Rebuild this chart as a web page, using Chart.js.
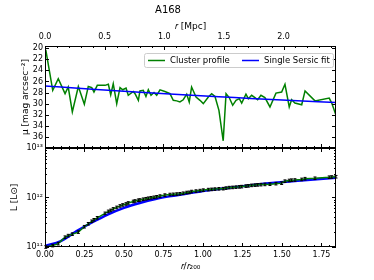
<!DOCTYPE html>
<html>
<head>
<meta charset="utf-8">
<script src="https://cdn.jsdelivr.net/npm/chart.js@4.4.1/dist/chart.umd.min.js"></script>
<style>
  html, body { margin: 0; padding: 0; background: #fff; }
</style>
</head>
<body>
<canvas id="myChart" width="374" height="280"></canvas>
<script>
'use strict'

// radial bins, in units of r200 (both panels share them)
const radius = [
  0.005, 0.049, 0.084, 0.127, 0.147, 0.173, 0.211, 0.249, 0.274, 0.296,
  0.310, 0.331, 0.380, 0.401, 0.416, 0.432, 0.454, 0.475, 0.492, 0.513,
  0.527, 0.559, 0.570, 0.591, 0.601, 0.622, 0.639, 0.654, 0.671, 0.690,
  0.707, 0.728, 0.759, 0.791, 0.812, 0.834, 0.854, 0.875, 0.897, 0.913,
  0.928, 0.956, 0.981, 1.002, 1.034, 1.055, 1.076, 1.101, 1.128, 1.146,
  1.166, 1.188, 1.209, 1.230, 1.245, 1.272, 1.287, 1.308, 1.329, 1.346,
  1.367, 1.392, 1.424, 1.462, 1.498, 1.519, 1.546, 1.561, 1.582, 1.625,
  1.646, 1.709, 1.799, 1.815, 1.842,
];

// surface brightness, mag arcsec^-2
const muProfile = [
  20.3, 27.6, 25.5, 28.2, 27.0, 31.5, 26.9, 30.1, 26.9, 27.1,
  27.9, 26.7, 26.7, 26.5, 28.4, 26.4, 30.0, 27.1, 27.5, 27.2,
  28.5, 27.8, 28.2, 29.4, 27.7, 27.6, 28.7, 27.5, 28.5, 28.0,
  28.5, 27.5, 27.8, 28.2, 29.4, 29.5, 29.7, 29.3, 28.3, 29.7,
  27.0, 28.8, 29.4, 30.0, 28.8, 28.2, 28.7, 31.2, 36.7, 28.2,
  28.9, 30.3, 29.4, 29.1, 29.9, 28.3, 29.1, 28.5, 28.9, 29.3,
  28.5, 28.9, 30.6, 28.1, 27.9, 26.5, 30.6, 29.3, 29.9, 30.2,
  27.7, 29.5, 29.0, 29.9, 32.1,
];

// cumulative luminosity, L_sun
const lumProfile = [
  1.00e11, 1.07e11, 1.17e11, 1.58e11, 1.70e11, 1.82e11, 2.00e11, 2.57e11, 2.95e11, 3.31e11,
  3.55e11, 3.89e11, 4.79e11, 5.25e11, 5.50e11, 5.89e11, 6.31e11, 6.76e11, 7.08e11, 7.41e11,
  7.76e11, 8.32e11, 8.51e11, 8.81e11, 8.91e11, 9.23e11, 9.44e11, 9.66e11, 9.89e11, 1.01e12,
  1.035e12, 1.07e12, 1.12e12, 1.15e12, 1.16e12, 1.175e12, 1.19e12, 1.22e12, 1.26e12, 1.27e12,
  1.32e12, 1.35e12, 1.38e12, 1.41e12, 1.445e12, 1.46e12, 1.48e12, 1.50e12, 1.51e12, 1.55e12,
  1.585e12, 1.60e12, 1.62e12, 1.64e12, 1.66e12, 1.70e12, 1.72e12, 1.76e12, 1.78e12, 1.80e12,
  1.82e12, 1.84e12, 1.86e12, 1.905e12, 1.95e12, 2.14e12, 2.21e12, 2.24e12, 2.26e12, 2.32e12,
  2.40e12, 2.45e12, 2.57e12, 2.60e12, 2.63e12,
];
const lumErrFrac = 0.06;

// sersic fit
const muFitRadius = [0, 0.3, 0.6, 0.9, 1.2, 1.5, 1.842];
const muFit = [26.8, 27.4, 27.95, 28.45, 28.9, 29.35, 29.8];
const lumFitRadius = [0, 0.1, 0.2, 0.3, 0.4, 0.5, 0.6, 0.7, 0.8, 0.9, 1.0, 1.2, 1.4, 1.6, 1.842];
const lumFit = [1.05e11, 1.32e11, 2.09e11, 3.16e11, 4.57e11, 6.17e11, 7.76e11, 9.33e11,
                1.07e12, 1.20e12, 1.35e12, 1.62e12, 1.91e12, 2.19e12, 2.51e12];

// tick labels
const muTicks = [20, 22, 24, 26, 28, 30, 32, 34, 36];
const lumTicks = [1e11, 1e12, 1e13];
const lumTickLabels = ['10\u00b9\u00b9', '10\u00b9\u00b2', '10\u00b9\u00b3'];
const xTicks = [0, 0.25, 0.5, 0.75, 1.0, 1.25, 1.5, 1.75];
const mpcTicks = [0, 0.5, 1.0, 1.5, 2.0];

const FONT = "'DejaVu Sans', sans-serif";
const GREEN = '#008000';
const BLUE = '#0000ff';

const pts = (xs, ys) => xs.map((x, i) => ({x: x, y: ys[i]}));
const setTicks = list => scale => { scale.ticks = list.map(v => ({value: v})); };

// error bars on the luminosity profile
const errorBars = {
  id: 'errorBars',
  afterDatasetsDraw(chart) {
    const {ctx, scales} = chart;
    ctx.save();
    ctx.strokeStyle = '#000';
    ctx.lineWidth = 1;
    ctx.beginPath();
    radius.forEach((r, i) => {
      const px = scales.x.getPixelForValue(r);
      const lo = scales.yL.getPixelForValue(lumProfile[i] * (1 - lumErrFrac));
      const hi = scales.yL.getPixelForValue(lumProfile[i] * (1 + lumErrFrac));
      ctx.moveTo(px, lo); ctx.lineTo(px, hi);
      ctx.moveTo(px - 1.5, lo); ctx.lineTo(px + 1.5, lo);
      ctx.moveTo(px - 1.5, hi); ctx.lineTo(px + 1.5, hi);
    });
    ctx.stroke();
    ctx.restore();
  }
};

// frames, inward ticks and the legend inside the top panel
const decorations = {
  id: 'decorations',
  afterDraw(chart) {
    const {ctx, chartArea: area, scales} = chart;
    const {x, xTop, yMu, yL} = scales;
    ctx.save();
    ctx.strokeStyle = '#000';
    ctx.lineWidth = 1;

    const hTicks = (scale, values, yEdge, dir, len) => {
      values.forEach(v => {
        const p = Math.round(scale.getPixelForValue(v)) + 0.5;
        if (p < area.left - 0.5 || p > area.right + 0.5) return;
        ctx.moveTo(p, yEdge); ctx.lineTo(p, yEdge + dir * len);
      });
    };
    const vTicks = (scale, values, len) => {
      values.forEach(v => {
        const p = Math.round(scale.getPixelForValue(v)) + 0.5;
        if (p < scale.top - 0.5 || p > scale.bottom + 0.5) return;
        ctx.moveTo(area.left, p); ctx.lineTo(area.left + len, p);
        ctx.moveTo(area.right, p); ctx.lineTo(area.right - len, p);
      });
    };

    const mpcMinor = [];
    for (let v = 0; v <= 2.45; v += 0.1) mpcMinor.push(v);
    const xMinor = [];
    for (let v = 0; v <= 1.85; v += 0.05) xMinor.push(v);
    const lumMinor = [];
    [1e11, 1e12].forEach(d => { for (let m = 2; m <= 9; m++) lumMinor.push(m * d); });

    ctx.beginPath();
    hTicks(xTop, mpcTicks, yMu.top, 1, 4);
    hTicks(xTop, mpcMinor, yMu.top, 1, 2);
    hTicks(x, xTicks, yMu.bottom, -1, 4);
    hTicks(x, xMinor, yMu.bottom, -1, 2);
    hTicks(x, xTicks, yL.top, 1, 4);
    hTicks(x, xMinor, yL.top, 1, 2);
    hTicks(x, xTicks, yL.bottom, -1, 4);
    hTicks(x, xMinor, yL.bottom, -1, 2);
    vTicks(yMu, muTicks, 4);
    vTicks(yL, lumTicks, 4);
    vTicks(yL, lumMinor, 2);
    ctx.stroke();

    [yMu, yL].forEach(s => {
      ctx.strokeRect(Math.round(area.left) + 0.5, Math.round(s.top) + 0.5,
        Math.round(area.right - area.left) - 1, Math.round(s.bottom - s.top) - 1);
    });

    // legend
    const bx = area.left + 99, by = yMu.top + 7, bw = 189, bh = 14;
    ctx.beginPath();
    ctx.roundRect(bx + 0.5, by + 0.5, bw, bh, 2);
    ctx.fillStyle = 'rgba(255,255,255,0.85)';
    ctx.fill();
    ctx.strokeStyle = '#cccccc';
    ctx.stroke();
    const entries = [
      {ds: chart.data.datasets[1], x: bx + 4},
      {ds: chart.data.datasets[0], x: bx + 98},
    ];
    const cy = by + bh / 2 + 0.5;
    ctx.font = '8.5px ' + FONT;
    ctx.textBaseline = 'middle';
    ctx.textAlign = 'left';
    entries.forEach(e => {
      ctx.beginPath();
      ctx.strokeStyle = e.ds.borderColor;
      ctx.lineWidth = 1.5;
      ctx.moveTo(e.x, cy); ctx.lineTo(e.x + 17, cy);
      ctx.stroke();
      ctx.fillStyle = '#000';
      ctx.fillText(e.ds.label, e.x + 22, cy);
    });
    ctx.restore();
  }
};

const tickFont = {family: FONT, size: 8};
const titleFont = {family: FONT, size: 9};

const config = {
  type: 'line',
  data: {
    datasets: [
      {
        label: 'Single Sersic fit',
        data: pts(muFitRadius, muFit),
        xAxisID: 'x', yAxisID: 'yMu',
        borderColor: BLUE, borderWidth: 1.5, pointRadius: 0,
        cubicInterpolationMode: 'monotone', order: 0,
      },
      {
        label: 'Cluster profile',
        data: pts(radius, muProfile),
        xAxisID: 'x', yAxisID: 'yMu',
        borderColor: GREEN, borderWidth: 1.5, pointRadius: 0, tension: 0, order: 1,
      },
      {
        label: 'Cluster profile (L)',
        data: pts(radius, lumProfile),
        xAxisID: 'x', yAxisID: 'yL',
        borderColor: GREEN, borderWidth: 1.5, pointRadius: 0, tension: 0, order: 0,
      },
      {
        label: 'Single Sersic fit (L)',
        data: pts(lumFitRadius, lumFit),
        xAxisID: 'x', yAxisID: 'yL',
        borderColor: BLUE, borderWidth: 2.5, pointRadius: 0,
        cubicInterpolationMode: 'monotone', order: 1,
      },
    ],
  },
  options: {
    responsive: false,
    animation: false,
    devicePixelRatio: 1,
    layout: {padding: {left: 0, right: 38, top: 0, bottom: 0}},
    plugins: {
      legend: {display: false},
      tooltip: {enabled: false},
      title: {
        display: true, text: 'A168', color: '#000',
        font: {family: FONT, size: 10, weight: 'normal'},
        padding: {top: 4, bottom: 0},
      },
    },
    scales: {
      // stacked axes: the one listed first ends up at the bottom
      yL: {
        type: 'logarithmic', position: 'left', stack: 'panels', stackWeight: 1,
        min: 1e11, max: 1e13,
        afterBuildTicks: setTicks(lumTicks),
        afterFit: s => { s.width = 45; },
        grid: {display: false, drawTicks: false},
        border: {display: false},
        ticks: {font: tickFont, color: '#000', padding: 2, autoSkip: false, callback: (v, i) => lumTickLabels[i]},
        title: {display: true, text: 'L [L\u2299]', color: '#000', font: titleFont,
                padding: {top: 9.6, bottom: 0}},
      },
      yMu: {
        type: 'linear', position: 'left', stack: 'panels', stackWeight: 1.03,
        reverse: true, min: 19.6, max: 38,
        afterBuildTicks: setTicks(muTicks),
        afterFit: s => { s.width = 45; },
        grid: {display: false, drawTicks: false},
        border: {display: false},
        ticks: {font: tickFont, color: '#000', padding: 2, autoSkip: false, callback: v => String(v)},
        title: {display: true, text: '\u03bc [mag arcsec\u207b\u00b2]', color: '#000', font: titleFont,
                padding: {top: 20.6, bottom: 0}},
      },
      x: {
        type: 'linear', position: 'bottom', min: 0, max: 1.842,
        afterBuildTicks: setTicks(xTicks),
        afterFit: s => { s.height = 33; },
        grid: {display: false, drawTicks: false},
        border: {display: false},
        ticks: {font: tickFont, color: '#000', padding: 3, autoSkip: false, maxRotation: 0,
                callback: v => v.toFixed(2)},
        title: {display: true, text: '\ud835\udc5f/\ud835\udc5f\u2082\u2080\u2080', color: '#000', font: titleFont,
                padding: {top: 0, bottom: 7.6}},
      },
      xTop: {
        type: 'linear', position: 'top', min: 0, max: 2.44,
        afterBuildTicks: setTicks(mpcTicks),
        afterFit: s => { s.height = 30; },
        grid: {display: false, drawTicks: false},
        border: {display: false},
        ticks: {font: tickFont, color: '#000', padding: 4, autoSkip: false, maxRotation: 0,
                callback: v => v.toFixed(1)},
        title: {display: true, text: '\ud835\udc5f [Mpc]', color: '#000', font: titleFont,
                padding: {top: 5.3, bottom: 0}},
      },
    },
  },
  plugins: [errorBars, decorations],
};

const myChart = new Chart(document.getElementById('myChart'), config);
</script>
</body>
</html>
